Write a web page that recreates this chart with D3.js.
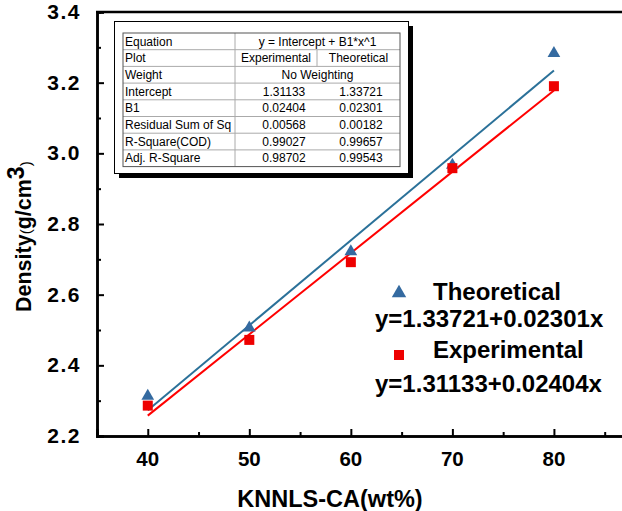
<!DOCTYPE html>
<html>
<head>
<meta charset="utf-8">
<script src="https://cdn.jsdelivr.net/npm/d3@7"></script>
<style>
  body { margin: 0; background: #fff; }
  text { font-family: Arial, 'Liberation Sans', sans-serif; }
</style>
</head>
<body>
<div id="chart"></div>
<script>
// data
var loadings = [40, 50, 60, 70, 80]
var theoretical = [2.313, 2.506, 2.722, 2.967, 3.283]
var experimental = [2.286, 2.472, 2.692, 2.958, 3.19]

// fit results shown in the table (columns: Experimental, Theoretical)
var fitColumns = ['Experimental', 'Theoretical']
var fitIntercept = [1.31133, 1.33721]
var fitSlope = [0.02404, 0.02301]
var fitRows = [
  ['Residual Sum of Sq', '0.00568', '0.00182'],
  ['R-Square(COD)', '0.99027', '0.99657'],
  ['Adj. R-Square', '0.98702', '0.99543']
]

var xTicks = [40, 50, 60, 70, 80]
var xMinor = [45, 55, 65, 75, 85]
var yTicks = [2.2, 2.4, 2.6, 2.8, 3.0, 3.2, 3.4]
var yMinor = [2.3, 2.5, 2.7, 2.9, 3.1, 3.3]

var width = 622
var height = 511

var svg = d3
  .select('#chart')
  .append('svg')
  .attr('width', width)
  .attr('height', height)

// scales
var xPositionScale = d3.scaleLinear().domain([35, 87]).range([97, 625])
var yPositionScale = d3.scaleLinear().domain([2.2, 3.4]).range([436, 12])

// fit lines (blue uses the first column, red the second)
var lineColors = ['#2b7199', '#ff0000']
fitIntercept.forEach(function(b0, i) {
  var pts = [40, 80].map(function(x) {
    return [x, b0 + fitSlope[i] * x]
  })
  svg
    .append('path')
    .datum(pts)
    .attr('d', d3.line()
      .x(d => xPositionScale(d[0]))
      .y(d => yPositionScale(d[1])))
    .attr('stroke', lineColors[i])
    .attr('stroke-width', 2)
    .attr('fill', 'none')
})

// points
var tri = d3.symbol().type(d3.symbolTriangle).size(70)
svg
  .selectAll('.tri')
  .data(theoretical)
  .enter()
  .append('path')
  .attr('class', 'tri')
  .attr('d', tri)
  .attr('transform', (d, i) => `translate(${xPositionScale(loadings[i])},${yPositionScale(d)})`)
  .attr('fill', '#346aa0')

svg
  .selectAll('.sq')
  .data(experimental)
  .enter()
  .append('rect')
  .attr('class', 'sq')
  .attr('x', (d, i) => xPositionScale(loadings[i]) - 5)
  .attr('y', d => yPositionScale(d) - 5)
  .attr('width', 10)
  .attr('height', 10)
  .attr('fill', '#ee0000')

// axes
var xAxis = d3.axisTop(xPositionScale).tickValues(xTicks).tickSize(7).tickFormat('')
var xAxisMinor = d3.axisTop(xPositionScale).tickValues(xMinor).tickSize(4).tickFormat('')
svg.append('g').attr('class', 'axis x-axis').attr('transform', 'translate(0,436)').call(xAxis)
svg.append('g').attr('class', 'axis x-axis').attr('transform', 'translate(0,436)').call(xAxisMinor)

var yAxis = d3.axisRight(yPositionScale).tickValues(yTicks).tickSize(7).tickFormat('')
var yAxisMinor = d3.axisRight(yPositionScale).tickValues(yMinor).tickSize(4).tickFormat('')
svg.append('g').attr('class', 'axis y-axis').attr('transform', 'translate(97,0)').call(yAxis)
svg.append('g').attr('class', 'axis y-axis').attr('transform', 'translate(97,0)').call(yAxisMinor)

svg.selectAll('.axis path.domain').attr('stroke', '#000').attr('stroke-width', 2.5)
svg.selectAll('.axis .tick line').attr('stroke', '#000').attr('stroke-width', 2)

// top frame
svg
  .append('line')
  .attr('x1', 96)
  .attr('x2', width)
  .attr('y1', 12)
  .attr('y2', 12)
  .attr('stroke', '#000')
  .attr('stroke-width', 2.5)

// tick labels
svg
  .selectAll('.xlab')
  .data(xTicks)
  .enter()
  .append('text')
  .attr('x', d => xPositionScale(d))
  .attr('y', 466)
  .attr('text-anchor', 'middle')
  .style('font-size', '20.5px')
  .style('font-weight', 'bold')
  .text(d => d)

svg
  .selectAll('.ylab')
  .data(yTicks)
  .enter()
  .append('text')
  .attr('x', 81)
  .attr('y', d => yPositionScale(d) + 7)
  .attr('text-anchor', 'end')
  .style('font-size', '21px')
  .style('font-weight', 'bold')
  .style('letter-spacing', '1.5px')
  .text(d => d.toFixed(1))

// axis titles
svg
  .append('text')
  .attr('x', 330)
  .attr('y', 507)
  .attr('text-anchor', 'middle')
  .style('font-size', '23.5px')
  .style('font-weight', 'bold')
  .text('KNNLS-CA(wt%)')

var yTitle = svg
  .append('text')
  .attr('transform', 'translate(31,312) rotate(-90)')
  .style('font-size', '21.5px')
  .style('font-weight', 'bold')
yTitle.append('tspan').text('Density')
yTitle.append('tspan').style('font-weight', 'normal').style('font-size', '15px').text('(')
yTitle.append('tspan').text('g/cm')
yTitle.append('tspan').attr('dy', -7).style('font-size', '23px').text('3')
yTitle.append('tspan').attr('dy', 7).style('font-weight', 'normal').style('font-size', '15px').text(')')

// legend
var legend = svg.append('g')
svg.append('path').attr('d', d3.symbol().type(d3.symbolTriangle).size(90))
  .attr('transform', 'translate(399,293)').attr('fill', '#346aa0')
svg.append('rect').attr('x', 394).attr('y', 350).attr('width', 10).attr('height', 10)
  .attr('fill', '#ee0000')
var legendLines = [
  ['Theoretical', 433, 300],
  ['y=' + fitIntercept[1] + '+' + fitSlope[1] + 'x', 375, 327],
  ['Experimental', 433, 358],
  ['y=' + fitIntercept[0] + '+' + fitSlope[0] + 'x', 375, 392]
]
legend
  .selectAll('text')
  .data(legendLines)
  .enter()
  .append('text')
  .attr('x', d => d[1])
  .attr('y', d => d[2])
  .style('font-size', '24px')
  .style('font-weight', 'bold')
  .text(d => d[0])

// fit table box
var box = svg.append('g')
box.append('rect').attr('x', 119).attr('y', 26).attr('width', 294).attr('height', 152).attr('fill', '#000')
box.append('rect').attr('x', 114.5).attr('y', 21.5).attr('width', 294).attr('height', 152)
  .attr('fill', '#fff').attr('stroke', '#000')

var tx0 = 123
var tx1 = 235
var tx2 = 317
var tx3 = 400
var rowH = 16.7
var ty0 = 33
var tableRows = [
  ['Equation', 'y = Intercept + B1*x^1'],
  ['Plot', fitColumns[0], fitColumns[1]],
  ['Weight', 'No Weighting'],
  ['Intercept', fitIntercept[0].toFixed(5), fitIntercept[1].toFixed(5)],
  ['B1', fitSlope[0].toFixed(5), fitSlope[1].toFixed(5)]
].concat(fitRows)

// grid
tableRows.forEach(function(r, i) {
  if (i > 0) {
    box.append('line').attr('x1', tx0).attr('x2', tx3)
      .attr('y1', ty0 + i * rowH).attr('y2', ty0 + i * rowH)
      .attr('stroke', '#aaa')
  }
})
box.append('line').attr('x1', tx1).attr('x2', tx1).attr('y1', ty0).attr('y2', ty0 + tableRows.length * rowH)
  .attr('stroke', '#aaa')
box.append('line').attr('x1', tx2).attr('x2', tx2).attr('y1', ty0 + rowH).attr('y2', ty0 + 2 * rowH)
  .attr('stroke', '#aaa')
box.append('rect').attr('x', tx0).attr('y', ty0).attr('width', tx3 - tx0)
  .attr('height', tableRows.length * rowH).attr('fill', 'none').attr('stroke', '#555')

tableRows.forEach(function(r, i) {
  var y = ty0 + i * rowH + 12.5
  box.append('text').attr('x', tx0 + 2).attr('y', y).style('font-size', '12px').text(r[0])
  if (r.length === 2) {
    box.append('text').attr('x', (tx1 + tx3) / 2).attr('y', y).attr('text-anchor', 'middle')
      .style('font-size', '12px').text(r[1])
  } else {
    var c1 = i === 1 ? (tx1 + tx2) / 2 : 284
    var c2 = i === 1 ? (tx2 + tx3) / 2 : 361
    box.append('text').attr('x', c1).attr('y', y).attr('text-anchor', 'middle')
      .style('font-size', '12px').text(r[1])
    box.append('text').attr('x', c2).attr('y', y).attr('text-anchor', 'middle')
      .style('font-size', '12px').text(r[2])
  }
})
</script>
</body>
</html>
